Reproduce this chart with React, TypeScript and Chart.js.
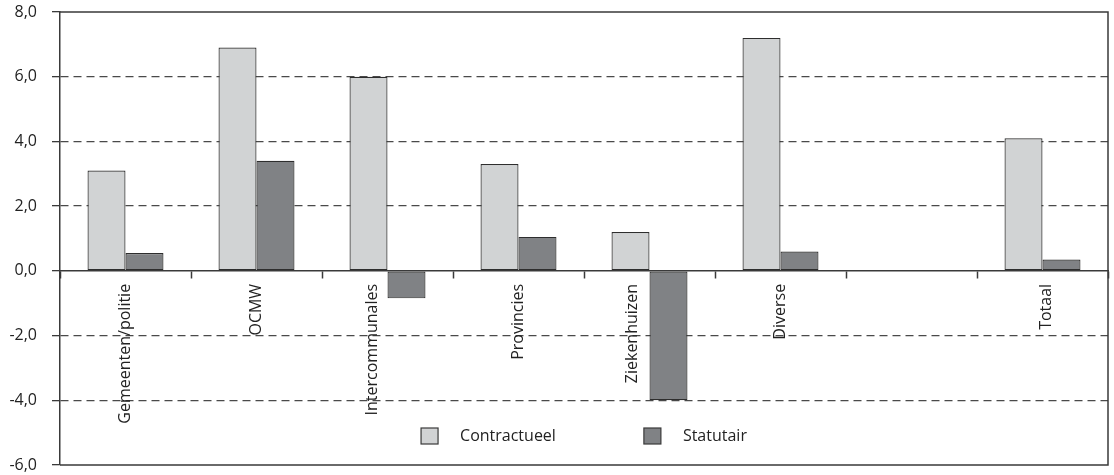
import React, { useEffect, useRef } from 'react';
import { Chart, registerables } from 'chart.js';

Chart.register(...registerables);

const categories = ['Gemeenten/politie', 'OCMW', 'Intercommunales', 'Provincies', 'Ziekenhuizen', 'Diverse', '', 'Totaal'];
const seriesNames = ['Contractueel', 'Statutair'];
const contractueel = [3.1, 6.9, 6.0, 3.3, 1.2, 7.2, null, 4.1];
const statutair = [0.55, 3.4, -0.85, 1.05, -4.0, 0.6, null, 0.35];
const yMin = -6;
const yMax = 8;
const yStep = 2;

const FONT_FAMILY = "'Open Sans', 'DejaVu Sans', sans-serif";
const FONT_SIZE = 16;
const LINE = '#3a3a3a';
const TEXT = '#222';
// horizontal nudges of the rotated category labels (px), as placed in the original
const labelNudge = [0, 0, -15, 0, -17, 0, 0, 4];

const framePlugin = {
  id: 'frame',
  afterDraw(chart: any) {
    const { ctx, chartArea } = chart;
    ctx.save();
    ctx.strokeStyle = LINE;
    ctx.lineWidth = 1.5;
    ctx.beginPath();
    ctx.moveTo(chartArea.left, chartArea.top);
    ctx.lineTo(chartArea.right, chartArea.top);
    ctx.lineTo(chartArea.right, chartArea.bottom);
    ctx.lineTo(chartArea.left, chartArea.bottom);
    ctx.stroke();
    ctx.restore();
  },
};

const xLabelPlugin = {
  id: 'xLabels',
  afterDraw(chart: any) {
    const { ctx } = chart;
    const xs = chart.scales.x;
    const ys = chart.scales.y;
    const y0 = ys.getPixelForValue(0) + 13;
    ctx.save();
    ctx.font = `${FONT_SIZE}px ${FONT_FAMILY}`;
    ctx.fillStyle = TEXT;
    ctx.textAlign = 'right';
    ctx.textBaseline = 'middle';
    (chart.data.labels as string[]).forEach((lab: string, i: number) => {
      if (!lab) return;
      const x = xs.getPixelForValue(i) + (labelNudge[i] || 0);
      ctx.save();
      ctx.translate(x, y0);
      ctx.rotate(-Math.PI / 2);
      ctx.fillText(lab, 0, 0);
      ctx.restore();
    });
    ctx.restore();
  },
};

const legendPlugin = {
  id: 'insideLegend',
  afterDraw(chart: any) {
    const { ctx, chartArea } = chart;
    ctx.save();
    ctx.font = `${FONT_SIZE}px ${FONT_FAMILY}`;
    const items = chart.data.datasets.map((ds: any) => ({
      label: ds.label,
      fill: ds.backgroundColor,
      w: ctx.measureText(ds.label).width,
    }));
    const boxW = 17;
    const boxH = 16;
    const gapText = 22;
    const gapItem = 88;
    const total =
      items.reduce((s: number, it: any) => s + boxW + gapText + it.w, 0) + gapItem * (items.length - 1);
    let x = (chartArea.left + chartArea.right) / 2 - total / 2;
    const cy = chartArea.bottom - 29;
    ctx.textBaseline = 'middle';
    ctx.textAlign = 'left';
    items.forEach((it: any) => {
      ctx.fillStyle = it.fill;
      ctx.fillRect(x, cy - boxH / 2, boxW, boxH);
      ctx.strokeStyle = LINE;
      ctx.lineWidth = 1.2;
      ctx.strokeRect(x, cy - boxH / 2, boxW, boxH);
      ctx.fillStyle = TEXT;
      ctx.fillText(it.label, x + boxW + gapText, cy);
      x += boxW + gapText + it.w + gapItem;
    });
    ctx.restore();
  },
};

export default function App() {
  const canvasRef = useRef<HTMLCanvasElement | null>(null);

  useEffect(() => {
    if (!canvasRef.current) return;
    const chart = new Chart(canvasRef.current, {
      type: 'bar',
      data: {
        labels: categories,
        datasets: [
          {
            label: seriesNames[0],
            data: contractueel,
            backgroundColor: '#d1d3d4',
            borderColor: '#2e2e2e',
            borderWidth: 1.2,
            borderSkipped: false,
          },
          {
            label: seriesNames[1],
            data: statutair,
            backgroundColor: '#808285',
            borderColor: '#2e2e2e',
            borderWidth: 1.2,
            borderSkipped: false,
          },
        ],
      },
      options: {
        animation: false,
        responsive: false,
        maintainAspectRatio: false,
        layout: { padding: { left: 0, right: 6, top: 12, bottom: 10 } },
        datasets: { bar: { barPercentage: 1, categoryPercentage: 0.58 } },
        plugins: {
          legend: { display: false },
          tooltip: { enabled: false },
        },
        scales: {
          x: {
            position: { y: 0 } as any,
            z: 1,
            grid: {
              drawOnChartArea: false,
              drawTicks: true,
              tickLength: 7,
              tickColor: LINE,
              tickWidth: 1.5,
              offset: true,
            },
            border: { display: true, color: LINE, width: 1.5 },
            ticks: { display: false, autoSkip: false },
            afterFit(scale: any) {
              scale.height = 0;
              scale.paddingLeft = 0;
              scale.paddingRight = 0;
            },
          },
          y: {
            min: yMin,
            max: yMax,
            grid: {
              color: (ctx: any) =>
                ctx.tick && (ctx.tick.value === yMax || ctx.tick.value === yMin || ctx.tick.value === 0)
                  ? 'rgba(0,0,0,0)'
                  : '#4a4a4a',
              lineWidth: 1.3,
              tickLength: 8,
              tickColor: LINE,
              tickWidth: 1.3,
            },
            border: { display: true, color: LINE, width: 1.5, dash: [8, 5] },
            ticks: {
              stepSize: yStep,
              padding: 15,
              color: TEXT,
              font: { family: FONT_FAMILY, size: FONT_SIZE },
              callback: (v: any) => Number(v).toFixed(1).replace('.', ','),
            },
            afterFit(scale: any) {
              scale.width = 60;
              scale.paddingTop = 0;
              scale.paddingBottom = 0;
            },
          },
        },
      },
      plugins: [framePlugin, xLabelPlugin, legendPlugin],
    });
    return () => chart.destroy();
  }, []);

  return (
    <div style={{ position: 'fixed', left: 0, top: 0, width: 1114, height: 475, background: '#fff' }}>
      <canvas ref={canvasRef} width={1114} height={475} style={{ width: 1114, height: 475 }} />
    </div>
  );
}
